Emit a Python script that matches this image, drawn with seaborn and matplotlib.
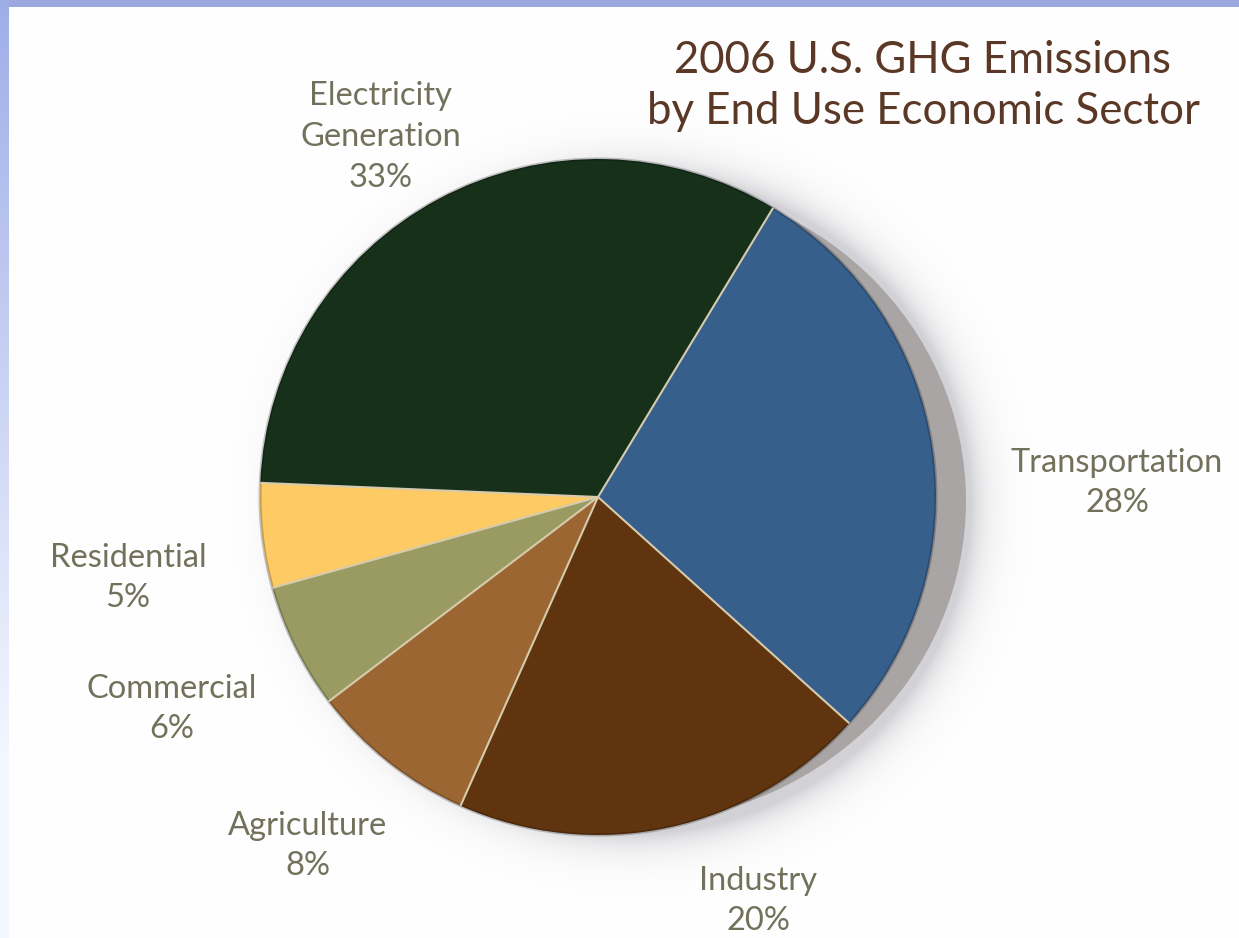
import numpy as np
import matplotlib
matplotlib.use("Agg")
import matplotlib.pyplot as plt
from matplotlib.patches import Ellipse
import seaborn as sns

# 2006 U.S. greenhouse gas emissions by end-use economic sector (percent)
sectors = ["Transportation", "Electricity\nGeneration", "Residential",
           "Commercial", "Agriculture", "Industry"]
shares = [28, 33, 5, 6, 8, 20]
sector_colors = ["#375f8c", "#16301a", "#fdca63", "#9a9b63", "#9b6631", "#60340f"]

title_text = "2006 U.S. GHG Emissions\nby End Use Economic Sector"

sns.set_theme(style="white")
plt.rcParams["font.family"] = ["Lato", "DejaVu Sans"]

W, H, DPI = 1239, 938, 100
fig = plt.figure(figsize=(W / DPI, H / DPI), dpi=DPI)
fig.patch.set_facecolor("white")

# ---- backdrop: blue frame along the top and left edges plus a soft drop shadow
yy, xx = np.mgrid[0:H, 0:W].astype(float)
canvas = np.ones((H, W, 3))

pie_cx, pie_cy, pie_r = 598.0, 497.0, 338.0

sh_cx, sh_cy, sh_rx, sh_ry = pie_cx + 34, pie_cy + 6, 338.0, 330.0
dist = (np.sqrt(((xx - sh_cx) / sh_rx) ** 2 + ((yy - sh_cy) / sh_ry) ** 2) - 1.0) * 335.0
shadow_alpha = 0.40 * np.exp(-np.clip(dist, 0, None) / 17.0)
shadow_rgb = np.array([0.56, 0.56, 0.60])
canvas = canvas * (1 - shadow_alpha[..., None]) + shadow_rgb * shadow_alpha[..., None]

top_blue = np.array([0.61, 0.66, 0.88])
canvas[:7, :, :] = top_blue
left_mix = np.clip(yy[:, :9] / 760.0, 0, 1)[..., None]
left_top = np.array([0.62, 0.68, 0.91])
left_bottom = np.array([0.96, 0.97, 1.0])
canvas[:, :9, :] = left_top * (1 - left_mix) + left_bottom * left_mix

bg = fig.add_axes([0, 0, 1, 1])
bg.imshow(canvas, extent=(0, W, H, 0), aspect="auto", interpolation="bilinear")
bg.set_xlim(0, W)
bg.set_ylim(H, 0)
bg.axis("off")

# ---- pie
ax = fig.add_axes([(pie_cx - pie_r) / W, (H - pie_cy - pie_r) / H,
                   2 * pie_r / W, 2 * pie_r / H])
ax.patch.set_alpha(0)

# grey rim giving the disc some thickness on its right side
rim = Ellipse((30 / pie_r, -4 / pie_r), 2.0, 2 * 322 / pie_r,
              facecolor="#a9a5a4", edgecolor="none", zorder=0, clip_on=False)
ax.add_patch(rim)

palette = sns.color_palette(sector_colors)
wedges, _ = ax.pie(shares, colors=palette, startangle=-42, counterclock=True,
                   radius=1.0, wedgeprops=dict(edgecolor="none", linewidth=0))
for w in wedges:
    w.set_zorder(2)
    w.set_clip_on(False)

# slightly darker outer edge of the disc
outline = Ellipse((0, 0), 2.0, 2.0, facecolor="none", edgecolor=(0, 0, 0, 0.22),
                  linewidth=2.2, zorder=3, clip_on=False)
ax.add_patch(outline)

# pale separator lines between neighbouring sectors
for w in wedges:
    t = np.deg2rad(w.theta1)
    ax.plot([0, np.cos(t)], [0, np.sin(t)], color="#d6cbad", lw=1.5,
            zorder=4, solid_capstyle="butt", clip_on=False)

ax.set_xlim(-1, 1)
ax.set_ylim(-1, 1)
ax.axis("off")

# ---- sector labels
label_color = "#72715b"
label_pos = {
    "Electricity\nGeneration": (381, 137),
    "Transportation": (1117, 483),
    "Residential": (128, 578),
    "Commercial": (172, 709),
    "Agriculture": (308, 846),
    "Industry": (758, 901),
}
for name, pct in zip(sectors, shares):
    px, py = label_pos[name]
    fig.text(px / W, 1 - py / H, f"{name}\n{pct}%", ha="center", va="center",
             multialignment="center", fontsize=23.5, color=label_color,
             linespacing=1.45)

# ---- title
fig.text(923 / W, 1 - 86 / H, title_text, ha="center", va="center",
         multialignment="center", fontsize=31.5, color="#5b3826", linespacing=1.3)

fig.savefig("out.png", dpi=DPI)
